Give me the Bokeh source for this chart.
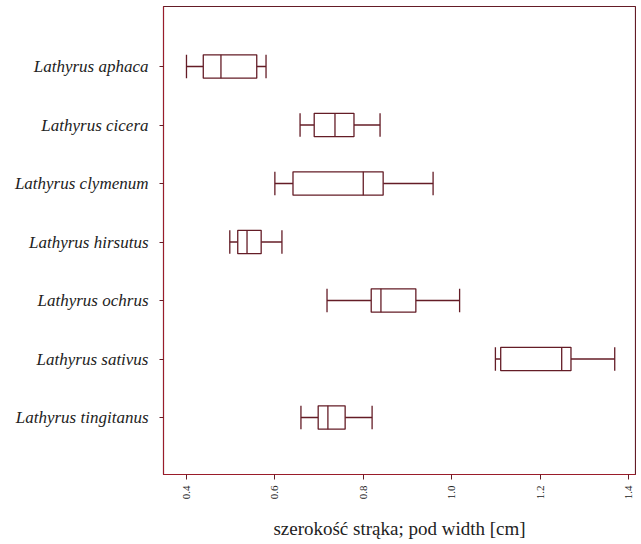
import math
import numpy as np
from bokeh.plotting import figure
from bokeh.models import Range1d, FixedTicker
from bokeh.embed import file_html
from bokeh.resources import INLINE

species = ["Lathyrus aphaca", "Lathyrus cicera", "Lathyrus clymenum", "Lathyrus hirsutus",
           "Lathyrus ochrus", "Lathyrus sativus", "Lathyrus tingitanus"]
low    = [0.400, 0.657, 0.600, 0.498, 0.718, 1.099, 0.659]
q1     = [0.438, 0.689, 0.641, 0.516, 0.818, 1.111, 0.698]
median = [0.478, 0.736, 0.800, 0.537, 0.840, 1.249, 0.720]
q3     = [0.559, 0.779, 0.845, 0.569, 0.919, 1.270, 0.759]
high   = [0.580, 0.838, 0.958, 0.616, 1.018, 1.369, 0.820]
x_ticks = [0.4, 0.6, 0.8, 1.0, 1.2, 1.4]

LINE = "#641c26"
AXIS = "#9a1c2a"
BOX_H = 0.4

pos = np.arange(len(species))

p = figure(width=636, height=544, output_backend="svg", toolbar_location=None,
           x_range=Range1d(0.348, 1.416), y_range=Range1d(6.974, -1.026),
           min_border_left=163, min_border_right=1, min_border_top=6, min_border_bottom=70)

p.xgrid.grid_line_color = None
p.ygrid.grid_line_color = None
p.outline_line_color = LINE
p.outline_line_width = 1.2
p.background_fill_color = "white"
p.border_fill_color = "white"

# whiskers
p.segment(x0=low, y0=pos, x1=q1, y1=pos, line_color=LINE, line_width=1.3)
p.segment(x0=q3, y0=pos, x1=high, y1=pos, line_color=LINE, line_width=1.3)
# caps
p.segment(x0=low, y0=pos - BOX_H / 2, x1=low, y1=pos + BOX_H / 2, line_color=LINE, line_width=1.3)
p.segment(x0=high, y0=pos - BOX_H / 2, x1=high, y1=pos + BOX_H / 2, line_color=LINE, line_width=1.3)
# boxes
p.hbar(y=pos, left=q1, right=q3, height=BOX_H, fill_color="white", line_color=LINE, line_width=1.3)
# medians
p.segment(x0=median, y0=pos - BOX_H / 2, x1=median, y1=pos + BOX_H / 2, line_color=LINE, line_width=1.3)

# axes
p.xaxis.ticker = FixedTicker(ticks=x_ticks)
p.xaxis.major_label_overrides = {t: f"{t:.1f}" for t in x_ticks}
p.xaxis.major_label_orientation = math.pi / 2
p.xaxis.major_label_text_font = "Liberation Serif"
p.xaxis.major_label_text_font_size = "11px"
p.xaxis.major_label_text_color = "#222222"
p.xaxis.major_label_standoff = 6
p.xaxis.minor_tick_line_color = None
p.xaxis.major_tick_out = 5
p.xaxis.major_tick_in = 0
p.xaxis.axis_line_color = AXIS
p.xaxis.major_tick_line_color = LINE
p.xaxis.axis_label = "szerokość strąka; pod width [cm]"
p.xaxis.axis_label_text_font = "Liberation Serif"
p.xaxis.axis_label_text_font_style = "normal"
p.xaxis.axis_label_text_font_size = "19px"
p.xaxis.axis_label_text_color = "#222222"
p.xaxis.axis_label_standoff = 16

p.yaxis.ticker = FixedTicker(ticks=list(pos))
p.yaxis.major_label_overrides = {int(i): s for i, s in zip(pos, species)}
p.yaxis.major_label_text_font = "Liberation Serif"
p.yaxis.major_label_text_font_style = "italic"
p.yaxis.major_label_text_font_size = "17px"
p.yaxis.major_label_text_color = "#222222"
p.yaxis.minor_tick_line_color = None
p.yaxis.major_tick_out = 4
p.yaxis.major_tick_in = 0
p.yaxis.axis_line_color = AXIS
p.yaxis.major_tick_line_color = LINE
p.yaxis.major_label_standoff = 11

open("out.html", "w").write(file_html(p, INLINE))
